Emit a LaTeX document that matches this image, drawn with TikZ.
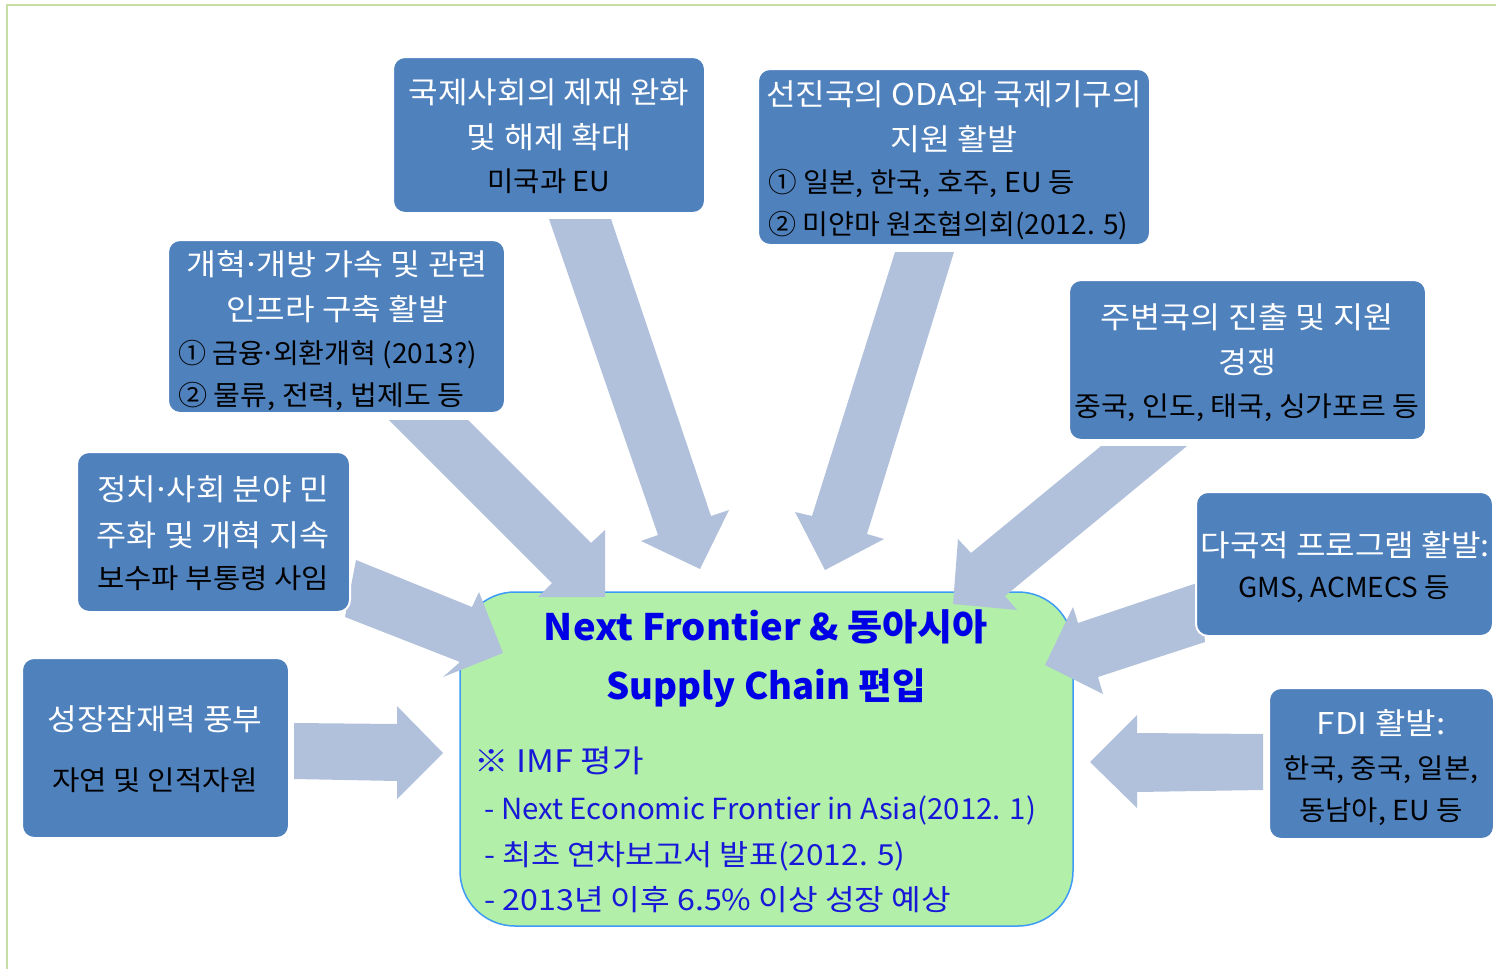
\documentclass[tikz,border=0pt]{standalone}
\usepackage{fontspec}
\setmainfont{Noto Sans CJK KR}
\definecolor{boxblue}{HTML}{4F81BD}
\definecolor{arrowc}{HTML}{B2C1DB}
\definecolor{cgreen}{HTML}{B2EFA8}
\definecolor{cedge}{HTML}{3D9BF5}
\definecolor{ctext}{HTML}{1818D8}
\definecolor{ctitle}{HTML}{0000E6}
\definecolor{framec}{HTML}{C5DFA5}
\newcommand{\hs}[2]{\scalebox{#1}[1]{#2}}
\newcommand{\mdot}{\kern-0.12em·\kern-0.12em}
\begin{document}
\begin{tikzpicture}[x=1pt,y=-1pt,
  box/.style={draw=white, line width=2pt, fill=boxblue, rounded corners=12pt, inner sep=0pt},
  wt/.style={text=white, font=\fontsize{30}{36}\selectfont, anchor=base, inner sep=0pt},
  bt/.style={text=black, font=\fontsize{27.5}{33}\selectfont, anchor=base, inner sep=0pt},
  btl/.style={bt, anchor=base west},
  blockarrow/.style={fill=arrowc},
  ttl/.style={text=ctitle, font=\fontsize{36.5}{44}\selectfont\bfseries, anchor=base, inner sep=0pt},
  ctx/.style={text=ctext, font=\fontsize{29}{35}\selectfont, anchor=base west, inner sep=0pt}]
\useasboundingbox (0,0) rectangle (1496,969);
\draw[framec, line width=1.5pt] (7,969) -- (7,5) -- (1496,5);

% central box
\node[draw=cedge, line width=1.5pt, fill=cgreen, rounded corners=55pt, inner sep=0pt,
      minimum width=613pt, minimum height=334pt] (hub) at (766.5,759) {};
\node[ttl] (t1) at (766,640) {\hs{1.045}{Next Frontier \& 동아시아}};
\node[ttl] (t2) at (766,699) {Supply Chain 편입};
\node[ctx, font=\fontsize{31}{37}\selectfont] (c1) at (474,772) {\hs{1.108}{※ IMF 평가}};
\node[ctx] (c2) at (484,819) {\hs{1.015}{- Next Economic Frontier in Asia(2012. 1)}};
\node[ctx] (c3) at (484,865) {\hs{1.09}{- 최초 연차보고서 발표(2012. 5)}};
\node[ctx] (c4) at (484,910) {\hs{1.11}{- 2013년 이후 6.5\% 이상 성장 예상}};

% block arrows
\fill[blockarrow] (549,219) -- (611,219) -- (711,516) -- (729,510) -- (700,569) -- (641,541) -- (658,535) -- cycle;
\fill[blockarrow] (389,420) -- (468,420) -- (591,543) -- (605,530) -- (605,597) -- (538,597) -- (552,583) -- cycle;
\fill[blockarrow] (895,252) -- (954,252) -- (867,534) -- (884,539) -- (825,570) -- (795,512) -- (812,516) -- cycle;
\fill[blockarrow] (1101,446) -- (1187,446) -- (1005,596) -- (1017,610) -- (953,604) -- (958,539) -- (971,553) -- cycle;
\fill[blockarrow] (1200,582) -- (1078,623) -- (1073,607) -- (1045,665) -- (1103,694) -- (1098,677) -- (1205,642) -- cycle;
\fill[blockarrow] (356,560) -- (472,607) -- (479,592) -- (503,653) -- (443,677) -- (460,662) -- (345,617) -- cycle;
\fill[blockarrow] (294,723) -- (397,724) -- (397,706) -- (443,753) -- (397,799) -- (397,781) -- (294,779) -- cycle;
\fill[blockarrow] (1263,734) -- (1137,733) -- (1137,715) -- (1090,762) -- (1137,808) -- (1137,792) -- (1263,790) -- cycle;

% outer boxes
\node[box, minimum width=312pt, minimum height=156pt] (A) at (549,135) {};
\node[wt] (a1) at (549,103) {\hs{1.07}{국제사회의 제재 완화}};
\node[wt] (a2) at (549,148) {\hs{1.087}{및 해제 확대}};
\node[bt] (a3) at (549,191) {\hs{1.04}{미국과 EU}};

\node[box, minimum width=392pt, minimum height=176pt] (B) at (954,157) {};
\node[wt] (b1) at (954,105) {\hs{1.073}{선진국의 ODA와 국제기구의}};
\node[wt] (b2) at (954,150) {\hs{1.083}{지원 활발}};
\node[btl] (b3) at (768,192) {\hs{1.04}{① 일본, 한국, 호주, EU 등}};
\node[btl] (b4) at (768,234) {\hs{1.02}{② 미얀마 원조협의회(2012. 5)}};

\node[box, minimum width=337pt, minimum height=173pt] (C) at (336.5,326.5) {};
\node[wt] (c1) at (337,275) {\hs{1.085}{개혁\mdot 개방 가속 및 관련}};
\node[wt] (c2) at (337,320) {\hs{1.07}{인프라 구축 활발}};
\node[btl] (c3) at (178,363) {\hs{1.02}{① 금융\mdot 외환개혁 (2013?)}};
\node[btl] (c4) at (178,405) {\hs{1.06}{② 물류, 전력, 법제도 등}};

\node[box, minimum width=357pt, minimum height=160pt] (D) at (1247.5,360) {};
\node[wt] (d1) at (1247,328) {\hs{1.09}{주변국의 진출 및 지원}};
\node[wt] (d2) at (1247,373) {\hs{1.04}{경쟁}};
\node[bt] (d3) at (1247,416) {\hs{1.06}{중국, 인도, 태국, 싱가포르 등}};

\node[box, minimum width=273pt, minimum height=160pt] (E) at (213.5,532) {};
\node[wt] (e1) at (213,500) {\hs{1.07}{정치\mdot 사회 분야 민}};
\node[wt] (e2) at (213,546) {\hs{1.09}{주화 및 개혁 지속}};
\node[bt] (e3) at (213,588) {\hs{1.08}{보수파 부통령 사임}};

\node[box, minimum width=297pt, minimum height=144pt] (F) at (1344.5,564) {};
\node[wt] (f1) at (1345,556) {\hs{1.07}{다국적 프로그램 활발:}};
\node[bt] (f2) at (1344,597) {\hs{1.015}{GMS, ACMECS 등}};

\node[box, minimum width=267pt, minimum height=180pt] (G) at (155.5,748) {};
\node[wt] (g1) at (155,730) {\hs{1.077}{성장잠재력 풍부}};
\node[bt] (g2) at (155,790) {\hs{1.085}{자연 및 인적자원}};

\node[box, minimum width=225pt, minimum height=151pt] (H) at (1381.5,763.5) {};
\node[wt] (h1) at (1381,734) {\hs{1.105}{FDI 활발:}};
\node[bt] (h2) at (1381,778) {\hs{1.04}{한국, 중국, 일본,}};
\node[bt] (h3) at (1381,820) {\hs{1.04}{동남아, EU 등}};
\end{tikzpicture}
\end{document}
